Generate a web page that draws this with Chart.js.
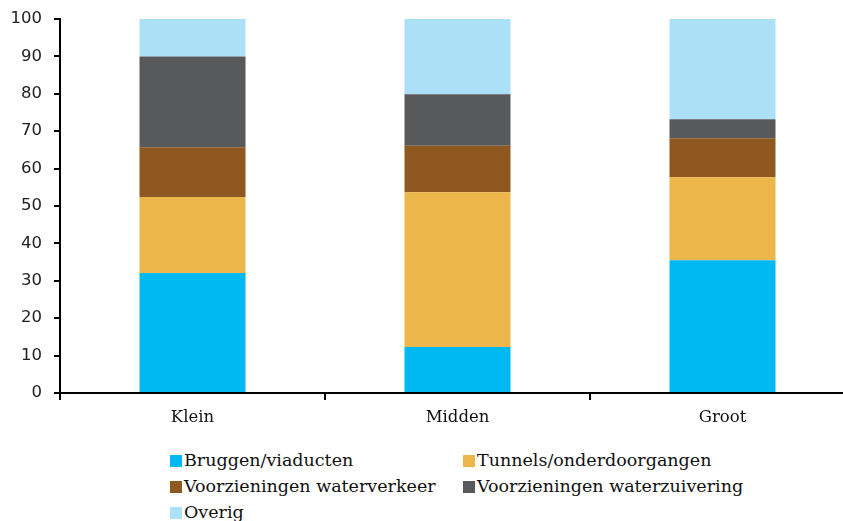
<!DOCTYPE html>
<html>
<head>
<meta charset="utf-8">
<script src="https://cdn.jsdelivr.net/npm/chart.js@4/dist/chart.umd.min.js"></script>
<style>
  html, body { margin: 0; padding: 0; background: #fff; overflow: hidden; width: 843px; height: 521px; }
  #wrap { position: absolute; left: 0; top: 0; width: 860px; height: 440px; }
  #legend { position: absolute; left: 170px; top: 450px; width: 640px; font-family: "DejaVu Serif", serif; font-size: 17.5px; color: #111; }
  .item { position: absolute; white-space: nowrap; line-height: 20px; }
  .box { display: inline-block; width: 12px; height: 12px; margin-right: 2px; vertical-align: -1px; }
</style>
</head>
<body>
<div id="wrap"><canvas id="chart"></canvas></div>
<div id="legend"></div>
<script>
var categories = ['Klein', 'Midden', 'Groot'];
var seriesNames = ['Bruggen/viaducten', 'Tunnels/onderdoorgangen', 'Voorzieningen waterverkeer', 'Voorzieningen waterzuivering', 'Overig'];
var bruggen = [32.1, 12.3, 35.5];
var tunnels = [20.3, 41.4, 22.2];
var waterverkeer = [13.3, 12.4, 10.4];
var waterzuivering = [24.3, 13.8, 5.1];
var overig = [10.0, 20.1, 26.8];
var yTicks = [0, 10, 20, 30, 40, 50, 60, 70, 80, 90, 100];

var colors = ['#00b9f2', '#ecb64a', '#8f5820', '#58595b', '#abe0f7'];
var allData = [bruggen, tunnels, waterverkeer, waterzuivering, overig];

var datasets = allData.map(function(d, i) {
    return {
        label: seriesNames[i],
        data: d,
        backgroundColor: colors[i],
        borderWidth: 0,
        categoryPercentage: 1,
        barPercentage: 0.4
    };
});

var ctx = document.getElementById('chart').getContext('2d');
var chart = new Chart(ctx, {
    type: 'bar',
    data: { labels: categories, datasets: datasets },
    options: {
        responsive: true,
        maintainAspectRatio: false,
        animation: false,
        layout: { padding: { top: 19, right: 5, left: 0, bottom: 0 } },
        plugins: { legend: { display: false }, tooltip: { enabled: false } },
        scales: {
            x: {
                stacked: true,
                border: { color: '#000', width: 2 },
                grid: { offset: true, drawOnChartArea: false, drawTicks: true, tickLength: 7, color: '#000', lineWidth: 2 },
                ticks: { color: '#111', padding: 8, font: { family: 'DejaVu Serif', size: 16.5 } },
                afterFit: function(s) { s.height = 47; }
            },
            y: {
                stacked: true,
                min: 0,
                max: 100,
                afterBuildTicks: function(s) { s.ticks = yTicks.map(function(v) { return { value: v }; }); },
                border: { color: '#000', width: 2 },
                grid: { drawOnChartArea: false, drawTicks: true, tickLength: 6, color: '#000', lineWidth: 2 },
                ticks: { color: '#222', padding: 12, font: { family: 'DejaVu Sans', size: 16.5 } },
                afterFit: function(s) { s.width = 60; s.paddingTop = 0; s.paddingBottom = 0; }
            }
        }
    }
});

// legend, two columns
var legend = document.getElementById('legend');
var pos = [[0, 0], [293, 0], [0, 26], [293, 26], [0, 52]];
seriesNames.forEach(function(name, i) {
    var el = document.createElement('div');
    el.className = 'item';
    el.style.left = pos[i][0] + 'px';
    el.style.top = pos[i][1] + 'px';
    el.innerHTML = '<span class="box" style="background:' + colors[i] + '"></span>' + name;
    legend.appendChild(el);
});
</script>
</body>
</html>
